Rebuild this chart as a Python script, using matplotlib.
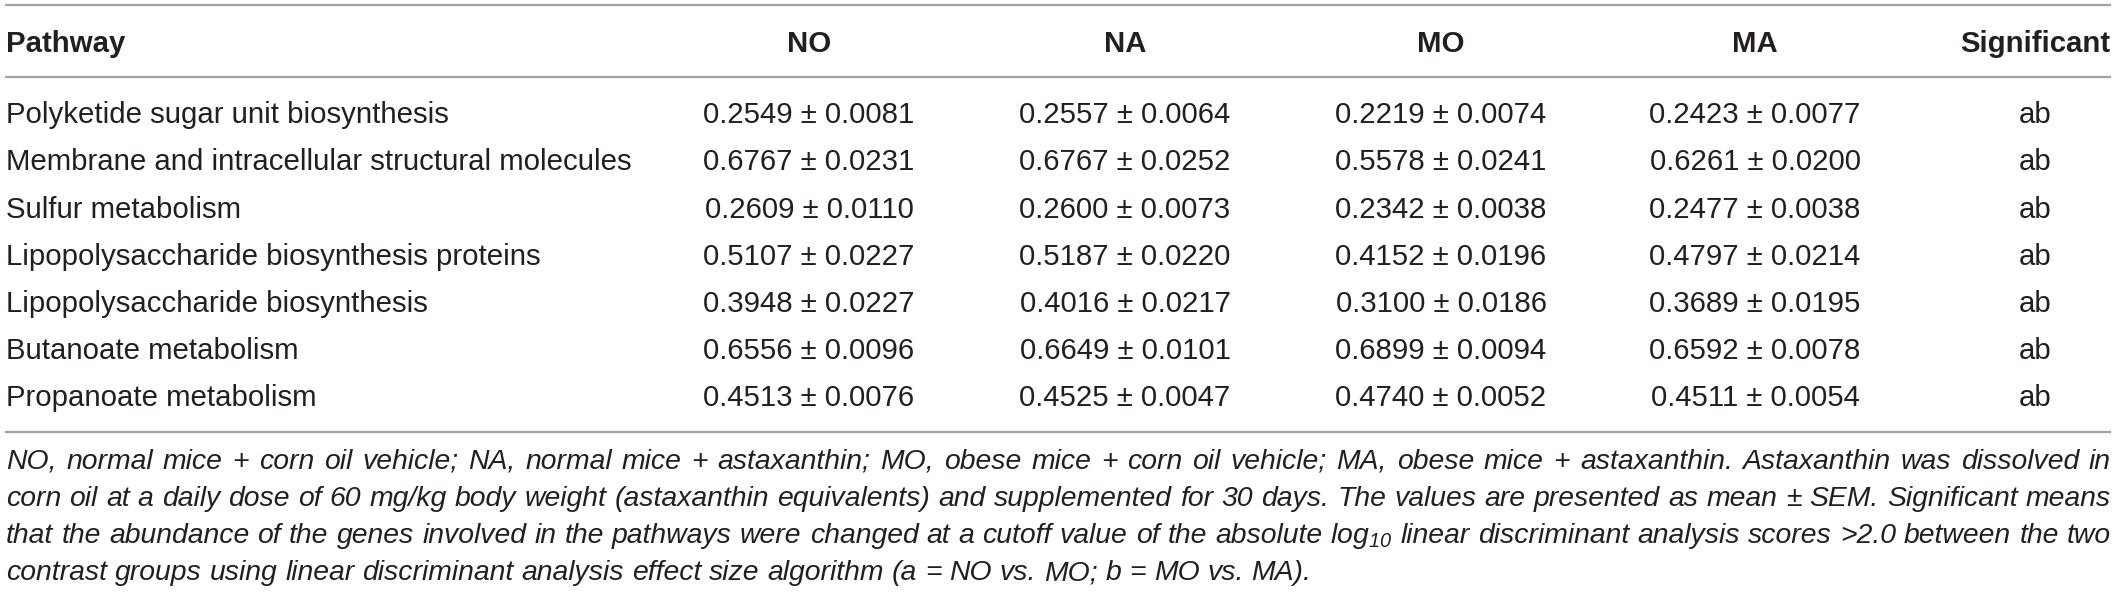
import matplotlib
matplotlib.use("Agg")
import matplotlib.pyplot as plt

plt.rcParams["font.family"] = ["Liberation Sans", "DejaVu Sans"]
plt.rcParams["mathtext.fontset"] = "custom"
plt.rcParams["mathtext.rm"] = "Liberation Sans:italic"
plt.rcParams["mathtext.it"] = "Liberation Sans:italic"

pathways = [
    "Polyketide sugar unit biosynthesis",
    "Membrane and intracellular structural molecules",
    "Sulfur metabolism",
    "Lipopolysaccharide biosynthesis proteins",
    "Lipopolysaccharide biosynthesis",
    "Butanoate metabolism",
    "Propanoate metabolism",
]
groups = ["NO", "NA", "MO", "MA"]
no_mean = [0.2549, 0.6767, 0.2609, 0.5107, 0.3948, 0.6556, 0.4513]
no_sem = [0.0081, 0.0231, 0.0110, 0.0227, 0.0227, 0.0096, 0.0076]
na_mean = [0.2557, 0.6767, 0.2600, 0.5187, 0.4016, 0.6649, 0.4525]
na_sem = [0.0064, 0.0252, 0.0073, 0.0220, 0.0217, 0.0101, 0.0047]
mo_mean = [0.2219, 0.5578, 0.2342, 0.4152, 0.3100, 0.6899, 0.4740]
mo_sem = [0.0074, 0.0241, 0.0038, 0.0196, 0.0186, 0.0094, 0.0052]
ma_mean = [0.2423, 0.6261, 0.2477, 0.4797, 0.3689, 0.6592, 0.4511]
ma_sem = [0.0077, 0.0200, 0.0038, 0.0214, 0.0195, 0.0078, 0.0054]
significant = ["ab", "ab", "ab", "ab", "ab", "ab", "ab"]

footnote = [
    "NO, normal mice + corn oil vehicle; NA, normal mice + astaxanthin; MO, obese mice + corn oil vehicle; "
    "MA, obese mice + astaxanthin. Astaxanthin was dissolved in",
    "corn oil at a daily dose of 60 mg/kg body weight (astaxanthin equivalents) and supplemented for 30 days. "
    "The values are presented as mean ± SEM. Significant means",
    "that the abundance of the genes involved in the pathways were changed at a cutoff value of the absolute "
    "log$_{10}$ linear discriminant analysis scores >2.0 between the two",
    "contrast groups using linear discriminant analysis effect size algorithm (a = NO vs. MO; b = MO vs. MA).",
]

means = [no_mean, na_mean, mo_mean, ma_mean]
sems = [no_sem, na_sem, mo_sem, ma_sem]

W, H = 2117, 592
fig = plt.figure(figsize=(W / 100, H / 100), dpi=100)
ax = fig.add_axes([0, 0, 1, 1])
ax.set_xlim(0, W)
ax.set_ylim(H, 0)
ax.axis("off")

txt = "#231f20"
rule = "#a3a3a3"
fs = 21.2
fs_note = 20.4
x_left, x_right = 5, 2111
col_x = [809, 1125, 1441, 1755]
sig_x = 2035

# rules
for y in [5, 77, 432]:
    ax.plot([x_left, x_right], [y, y], color=rule, lw=1.6, solid_capstyle="butt")

# header
hy = 52
ax.text(6, hy, "Pathway", fontsize=fs, fontweight="bold", color=txt, va="baseline", ha="left")
for g, cx in zip(groups, col_x):
    ax.text(cx, hy, g, fontsize=fs, fontweight="bold", color=txt, va="baseline", ha="center")
ax.text(sig_x, hy, "Significant", fontsize=fs, fontweight="bold", color=txt, va="baseline", ha="center")

# rows
for i, name in enumerate(pathways):
    y = 123.3 + 47.1 * i
    ax.text(6, y, name, fontsize=fs, color=txt, va="baseline", ha="left")
    for k, cx in enumerate(col_x):
        s = f"{means[k][i]:.4f} ± {sems[k][i]:.4f}"
        ax.text(cx, y, s, fontsize=fs, color=txt, va="baseline", ha="center")
    ax.text(sig_x, y, significant[i], fontsize=fs, color=txt, va="baseline", ha="center")

# footnote, justified like the original
renderer = fig.canvas.get_renderer()
for j, line in enumerate(footnote):
    y = 469 + 37 * j
    words = line.split(" ")
    items = []
    for w in words:
        t = ax.text(0, y, w, fontsize=fs_note, style="italic", color=txt, va="baseline", ha="left")
        items.append(t)
    widths = [t.get_window_extent(renderer).width for t in items]
    if j < len(footnote) - 1:
        gap = (x_right - 1 - x_left - sum(widths)) / (len(items) - 1)
    else:
        sp = ax.text(0, 0, "a a", fontsize=fs_note, style="italic")
        sp2 = ax.text(0, 0, "aa", fontsize=fs_note, style="italic")
        gap = sp.get_window_extent(renderer).width - sp2.get_window_extent(renderer).width
        sp.remove()
        sp2.remove()
    x = x_left + 1
    for t, w in zip(items, widths):
        t.set_x(x)
        x += w + gap

fig.savefig("out.png", dpi=100)
